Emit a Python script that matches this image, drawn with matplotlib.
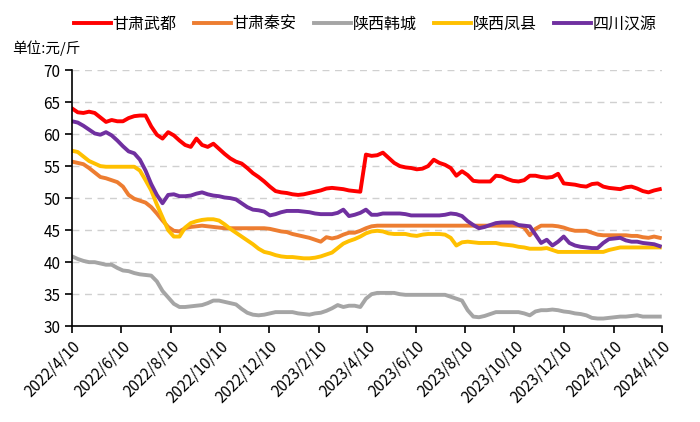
import matplotlib
matplotlib.use("Agg")
import matplotlib.pyplot as plt
import pandas as pd

plt.rcParams['font.family'] = ['Noto Sans CJK SC', 'DejaVu Sans']

# 周度价格, 单位: 元/斤 (2022/4/10 起, 每周一个点)
dates = pd.date_range('2022-04-10', periods=105, freq='7D')

wudu = [64.0, 63.4, 63.3, 63.5, 63.3, 62.6, 61.9, 62.2, 62.0, 62.0,
        62.5, 62.8, 62.9, 62.9, 61.2, 59.9, 59.3, 60.3, 59.8, 59.0,
        58.3, 58.0, 59.3, 58.3, 58.0, 58.5, 57.7, 56.9, 56.2, 55.7,
        55.4, 54.7, 53.9, 53.3, 52.6, 51.8, 51.1, 50.9, 50.8, 50.6,
        50.5, 50.6, 50.8, 51.0, 51.2, 51.5, 51.6, 51.5, 51.4, 51.2,
        51.1, 51.0, 56.8, 56.6, 56.7, 57.1, 56.3, 55.5, 55.0, 54.8,
        54.7, 54.5, 54.6, 55.0, 56.0, 55.5, 55.2, 54.7, 53.5, 54.2,
        53.6, 52.7, 52.6, 52.6, 52.6, 53.5, 53.4, 53.0, 52.7, 52.6,
        52.8, 53.5, 53.5, 53.3, 53.2, 53.3, 53.8, 52.3, 52.2, 52.1,
        51.9, 51.8, 52.2, 52.3, 51.8, 51.6, 51.5, 51.4, 51.7, 51.8,
        51.5, 51.1, 50.9, 51.2, 51.4]

qinan = [55.7, 55.5, 55.3, 54.7, 54.0, 53.3, 53.1, 52.8, 52.5, 51.8,
         50.5, 49.9, 49.6, 49.3, 48.6, 47.6, 46.5, 45.5, 44.9, 44.8,
         45.3, 45.5, 45.6, 45.7, 45.6, 45.5, 45.4, 45.3, 45.3, 45.3,
         45.3, 45.3, 45.3, 45.3, 45.3, 45.2, 45.0, 44.8, 44.7, 44.4,
         44.2, 44.0, 43.8, 43.5, 43.2, 43.9, 43.7, 43.9, 44.3, 44.6,
         44.6, 44.9, 45.3, 45.6, 45.7, 45.7, 45.7, 45.7, 45.7, 45.7,
         45.7, 45.7, 45.7, 45.7, 45.7, 45.7, 45.7, 45.7, 45.7, 45.7,
         45.7, 45.7, 45.7, 45.7, 45.7, 45.7, 45.7, 45.7, 45.7, 45.7,
         45.4, 44.2, 45.2, 45.7, 45.7, 45.7, 45.6, 45.4, 45.1, 44.9,
         44.9, 44.9, 44.6, 44.3, 44.2, 44.2, 44.2, 44.2, 44.2, 44.1,
         44.1, 43.9, 43.8, 44.0, 43.8]

hancheng = [40.9, 40.5, 40.2, 40.0, 40.0, 39.8, 39.6, 39.6, 39.1, 38.7,
            38.6, 38.3, 38.1, 38.0, 37.9, 37.0, 35.5, 34.5, 33.5, 33.0,
            33.0, 33.1, 33.2, 33.3, 33.6, 34.0, 34.0, 33.8, 33.6, 33.4,
            32.7, 32.1, 31.8, 31.7, 31.8, 32.0, 32.2, 32.2, 32.2, 32.2,
            32.0, 31.9, 31.8, 32.0, 32.1, 32.4, 32.8, 33.3, 33.0, 33.2,
            33.2, 33.0, 34.3, 35.0, 35.2, 35.2, 35.2, 35.2, 35.0, 34.9,
            34.9, 34.9, 34.9, 34.9, 34.9, 34.9, 34.9, 34.6, 34.3, 34.0,
            32.5, 31.5, 31.4, 31.6, 31.9, 32.2, 32.2, 32.2, 32.2, 32.2,
            32.0, 31.7, 32.3, 32.5, 32.5, 32.6, 32.5, 32.3, 32.2, 32.0,
            31.9, 31.7, 31.3, 31.2, 31.2, 31.3, 31.4, 31.5, 31.5, 31.6,
            31.7, 31.5, 31.5, 31.5, 31.5]

fengxian = [57.4, 57.2, 56.5, 55.8, 55.4, 55.0, 54.9, 54.9, 54.9, 54.9,
            54.9, 54.9, 54.3, 52.8, 51.2, 49.0, 47.0, 45.0, 44.0, 44.0,
            45.4, 46.1, 46.4, 46.6, 46.7, 46.7, 46.5, 45.9, 45.2, 44.6,
            44.0, 43.4, 42.8, 42.1, 41.6, 41.4, 41.1, 40.9, 40.8, 40.8,
            40.7, 40.6, 40.6, 40.7, 40.9, 41.2, 41.5, 42.2, 42.9, 43.3,
            43.6, 44.0, 44.5, 44.8, 44.9, 44.8, 44.5, 44.4, 44.4, 44.4,
            44.2, 44.1, 44.3, 44.4, 44.4, 44.4, 44.3, 43.8, 42.6, 43.1,
            43.2, 43.1, 43.0, 43.0, 43.0, 43.0, 42.8, 42.7, 42.6, 42.4,
            42.3, 42.1, 42.1, 42.1, 42.2, 41.9, 41.6, 41.6, 41.6, 41.6,
            41.6, 41.6, 41.6, 41.6, 41.6, 41.9, 42.1, 42.3, 42.3, 42.3,
            42.3, 42.3, 42.3, 42.3, 42.3]

hanyuan = [62.0, 61.8, 61.3, 60.7, 60.1, 59.9, 60.3, 59.8, 59.0, 58.1,
           57.3, 57.0, 56.0, 54.3, 52.2, 50.5, 49.2, 50.5, 50.6, 50.3,
           50.3, 50.4, 50.7, 50.9, 50.6, 50.4, 50.3, 50.1, 50.0, 49.8,
           49.2, 48.6, 48.2, 48.1, 47.9, 47.3, 47.5, 47.8, 48.0, 48.0,
           48.0, 47.9, 47.8, 47.6, 47.5, 47.5, 47.5, 47.7, 48.2, 47.2,
           47.4, 47.7, 48.2, 47.4, 47.4, 47.6, 47.6, 47.6, 47.6, 47.5,
           47.3, 47.3, 47.3, 47.3, 47.3, 47.3, 47.4, 47.6, 47.5, 47.2,
           46.4, 45.8, 45.3, 45.5, 45.8, 46.1, 46.2, 46.2, 46.2, 45.8,
           45.7, 45.6, 44.3, 43.0, 43.5, 42.6, 43.2, 44.0, 43.0, 42.6,
           42.4, 42.3, 42.2, 42.2, 43.0, 43.6, 43.7, 43.8, 43.4, 43.2,
           43.2, 43.0, 42.9, 42.8, 42.5]

names = ['甘肃武都', '甘肃秦安', '陕西韩城', '陕西凤县', '四川汉源']
colors = ['#FF0000', '#ED7D31', '#A5A5A5', '#FFC000', '#7030A0']
series = [wudu, qinan, hancheng, fengxian, hanyuan]

tick_dates = pd.date_range('2022-04-01', '2024-04-01', freq='2MS') + pd.Timedelta(days=9)

fig = plt.figure(figsize=(7, 4.22), dpi=100)
ax = fig.add_axes([0.103, 0.227, 0.843, 0.607])

for name, c, s in zip(names, colors, series):
    ax.plot(dates, s, color=c, lw=2.8, label=name, solid_joinstyle='round')

ax.set_ylim(30, 70)
ax.set_yticks(range(30, 71, 5))
ax.set_xlim(pd.Timestamp('2022-04-10'), pd.Timestamp('2024-04-10'))
ax.set_xticks(tick_dates)
ax.set_xticklabels([f'{d.year}/{d.month}/{d.day}' for d in tick_dates],
                   rotation=45, ha='right', rotation_mode='anchor')

ax.grid(axis='y', color='#D0D0D0', linestyle=(0, (5, 4)), lw=1)
ax.set_axisbelow(True)
for sp in ['top', 'right']:
    ax.spines[sp].set_visible(False)
ax.spines['left'].set_linewidth(1.2)
ax.spines['bottom'].set_linewidth(1.2)
ax.tick_params(axis='both', direction='out', length=5, width=1.2, labelsize=11)

ax.legend(loc='lower center', bbox_to_anchor=(0.497, 1.12), ncol=5, frameon=False,
          fontsize=11.5, handlelength=2.3, handletextpad=0.1, columnspacing=1.1,
          borderaxespad=0)
fig.text(0.017, 0.885, '单位:元/斤', fontsize=10.5, va='center')

fig.savefig('out.png', dpi=100)
